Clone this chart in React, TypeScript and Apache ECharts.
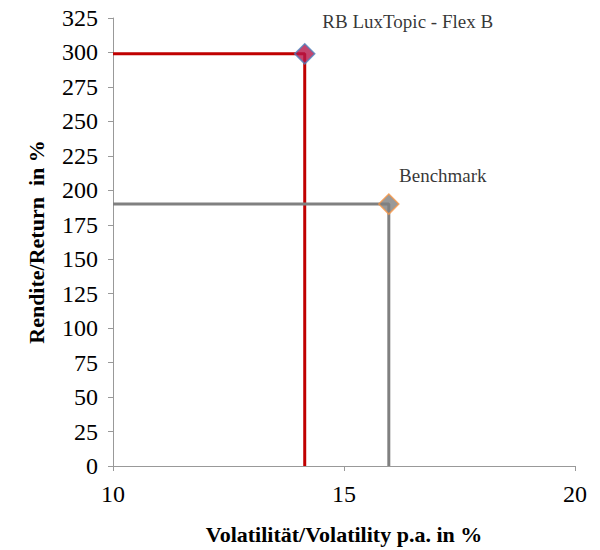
import React, { useEffect, useRef } from "react";
import * as echarts from "echarts";

const names = ["RB LuxTopic - Flex B", "Benchmark"];
const volatility = [14.15, 15.97];
const returns = [299, 190];
const lineColors = ["#C00000", "#808080"];
const fillColors = ["#B5174A", "#7F7F7F"];
const borderColors = ["#4F81BD", "#F79646"];
const labelOffsets = [[103, -32], [54, -29]];

const xMin = 10;
const xMax = 20;
const yMin = 0;
const yMax = 325;

export default function App() {
  const ref = useRef<HTMLDivElement>(null);
  useEffect(() => {
    if (!ref.current) return;
    const chart = echarts.init(ref.current, null, { renderer: "svg" });
    const font = "Liberation Serif";
    const lineSeries = names.map((n, i) => ({
      type: "line",
      name: n + " lines",
      data: [
        [xMin, returns[i]],
        [volatility[i], returns[i]],
        [volatility[i], yMin],
      ],
      symbol: "none",
      lineStyle: { color: lineColors[i], width: 3 },
      silent: true,
      z: 2,
    }));
    const pointSeries = names.map((n, i) => ({
      type: "scatter",
      name: n,
      data: [[volatility[i], returns[i]]],
      symbol: "diamond",
      symbolSize: [20, 20],
      itemStyle: {
        color: fillColors[i],
        borderColor: borderColors[i],
        borderWidth: 1.5,
      },
      label: {
        show: true,
        formatter: n,
        position: "inside",
        offset: labelOffsets[i],
        color: "#000",
        fontFamily: font,
        fontSize: 19,
      },
      z: 3,
    }));
    chart.setOption({
      animation: false,
      textStyle: { fontFamily: font },
      grid: { left: 113, right: 25, top: 18, bottom: 80, containLabel: false },
      xAxis: {
        type: "value",
        min: xMin,
        max: xMax,
        interval: 5,
        name: "Volatilität/Volatility p.a. in %",
        nameLocation: "middle",
        nameGap: 57,
        nameTextStyle: { fontFamily: font, fontSize: 22, fontWeight: "bold", color: "#000" },
        axisLine: { show: true, lineStyle: { color: "#999999", width: 1 } },
        axisTick: { show: true, inside: false, length: 5, lineStyle: { color: "#999999" } },
        axisLabel: { fontFamily: font, fontSize: 24, color: "#000", margin: 16 },
        splitLine: { show: false },
      },
      yAxis: {
        type: "value",
        min: yMin,
        max: yMax,
        interval: 25,
        name: "Rendite/Return  in %",
        nameLocation: "middle",
        nameGap: 66,
        nameRotate: 90,
        nameTextStyle: { fontFamily: font, fontSize: 22, fontWeight: "bold", color: "#000" },
        axisLine: { show: true, lineStyle: { color: "#999999", width: 1 } },
        axisTick: { show: true, inside: false, length: 5, lineStyle: { color: "#999999" } },
        axisLabel: { fontFamily: font, fontSize: 24, color: "#000", margin: 15 },
        splitLine: { show: false },
      },
      series: [...lineSeries, ...pointSeries],
    });
    return () => chart.dispose();
  }, []);
  return (
    <div
      ref={ref}
      style={{ position: "absolute", left: 0, top: 0, width: 600, height: 550, overflow: "hidden" }}
    />
  );
}
